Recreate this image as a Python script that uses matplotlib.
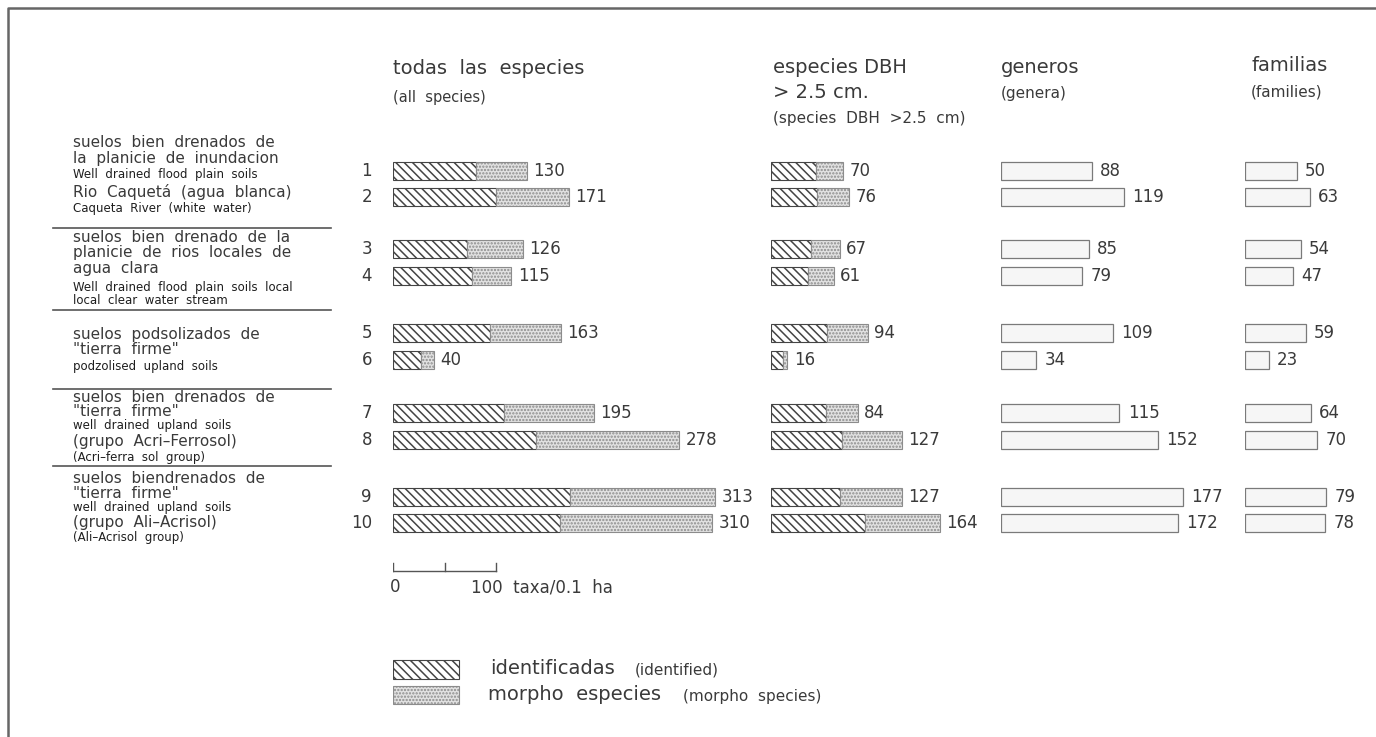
import matplotlib.pyplot as plt
import matplotlib as mpl

mpl.rcParams['hatch.linewidth'] = 1.1
mpl.rcParams['font.family'] = ['DejaVu Sans']

# data (taxa per 0.1 ha)
plots = ['1', '2', '3', '4', '5', '6', '7', '8', '9', '10']
all_total = [130, 171, 126, 115, 163, 40, 195, 278, 313, 310]
all_ident = [81, 100, 72, 77, 94, 27, 108, 139, 172, 162]
dbh_total = [70, 76, 67, 61, 94, 16, 84, 127, 127, 164]
dbh_ident = [44, 45, 39, 36, 54, 12, 53, 69, 67, 91]
genera = [88, 119, 85, 79, 109, 34, 115, 152, 177, 172]
families = [50, 63, 54, 47, 59, 23, 64, 70, 79, 78]

groups = [
    [('suelos  bien  drenados  de', 'big'), ('la  planicie  de  inundacion', 'big'),
     ('Well  drained  flood  plain  soils', 'small'), ('Rio  Caquetá  (agua  blanca)', 'big'),
     ('Caqueta  River  (white  water)', 'small')],
    [('suelos  bien  drenado  de  la', 'big'), ('planicie  de  rios  locales  de', 'big'),
     ('agua  clara', 'big'), ('Well  drained  flood  plain  soils  local', 'small'),
     ('local  clear  water  stream', 'small')],
    [('suelos  podsolizados  de', 'big'), ('"tierra  firme"', 'big'),
     ('podzolised  upland  soils', 'small')],
    [('suelos  bien  drenados  de', 'big'), ('"tierra  firme"', 'big'),
     ('well  drained  upland  soils', 'small'), ('(grupo  Acri\u2013Ferrosol)', 'big'),
     ('(Acri\u2013ferra  sol  group)', 'small')],
    [('suelos  biendrenados  de', 'big'), ('"tierra  firme"', 'big'),
     ('well  drained  upland  soils', 'small'), ('(grupo  Ali\u2013Acrisol)', 'big'),
     ('(Ali\u2013Acrisol  group)', 'small')],
]

# layout (pixels)
W, H = 1376, 737
row_y = [171, 197, 249, 276, 333, 360, 413, 440, 497, 523]
group_line_y = [[142, 158, 174, 192, 208], [237, 252, 268, 287, 300],
                [334, 349, 366], [397, 411, 425, 441, 457], [478, 493, 508, 523, 537]]
sep_y = [228, 310, 389, 466]
col_x = [393, 771, 1001, 1245]
ppu = 1.03
bar_h = 18
ink = '#3a3a3a'
hatch_col = '#444444'
dot_col = '#8c8c8c'

fig = plt.figure(figsize=(W / 100, H / 100), dpi=100)
fig.patch.set_facecolor('white')
ax0 = fig.add_axes([0, 0, 1, 1])
ax0.set_xlim(0, W)
ax0.set_ylim(H, 0)
ax0.axis('off')

# frame
ax0.plot([8, 8, W], [H, 8, 8], color='#666', lw=1.8)

# left labels
for lines, ys in zip(groups, group_line_y):
    for (txt, kind), y in zip(lines, ys):
        if kind == 'big':
            ax0.text(73, y, txt, fontsize=11, color=ink, va='center')
        else:
            ax0.text(73, y, txt, fontsize=8.5, color='#1e1e1e', va='center')
for y in sep_y:
    ax0.plot([53, 331], [y, y], color='#555', lw=1.2)

# column headers
ax0.text(393, 68, 'todas  las  especies', fontsize=14, color=ink, va='center')
ax0.text(393, 97, '(all  species)', fontsize=10.5, color=ink, va='center')
ax0.text(773, 67, 'especies DBH', fontsize=14, color=ink, va='center')
ax0.text(773, 92, '> 2.5 cm.', fontsize=14, color=ink, va='center')
ax0.text(773, 118, '(species  DBH  >2.5  cm)', fontsize=11, color=ink, va='center')
ax0.text(1001, 67, 'generos', fontsize=14, color=ink, va='center')
ax0.text(1001, 93, '(genera)', fontsize=11, color=ink, va='center')
ax0.text(1251, 65, 'familias', fontsize=14, color=ink, va='center')
ax0.text(1251, 92, '(families)', fontsize=11, color=ink, va='center')

# plot numbers
for p, y in zip(plots, row_y):
    ax0.text(372, y, p, fontsize=12, color=ink, va='center', ha='right')


def col_axes(x0, wpx):
    ax = fig.add_axes([x0 / W, 0, wpx / W, 1])
    ax.set_xlim(0, wpx / ppu)
    ax.set_ylim(H, 0)
    ax.axis('off')
    return ax


def stacked(ax, ident, total):
    morpho = [t - i for t, i in zip(total, ident)]
    ax.barh(row_y, ident, height=bar_h, color='white', edgecolor=hatch_col,
            hatch='\\\\\\\\', lw=0.8)
    ax.barh(row_y, morpho, left=ident, height=bar_h, color='#e2e2e2',
            edgecolor=dot_col, hatch='.....', lw=0.8)
    for t, y in zip(total, row_y):
        ax.text(t + 6, y, str(t), fontsize=12, color=ink, va='center')


def plain(ax, vals):
    ax.barh(row_y, vals, height=bar_h, color='#f6f6f6', edgecolor='#7a7a7a', lw=0.9)
    for v, y in zip(vals, row_y):
        ax.text(v + 8, y, str(v), fontsize=12, color=ink, va='center')


ax1 = col_axes(col_x[0], 370)
stacked(ax1, all_ident, all_total)
ax2 = col_axes(col_x[1], 220)
stacked(ax2, dbh_ident, dbh_total)
ax3 = col_axes(col_x[2], 230)
plain(ax3, genera)
ax4 = col_axes(col_x[3], 130)
plain(ax4, families)

# scale bar (0-100 taxa)
scale_ticks = [0, 50, 100]
ax1.plot([scale_ticks[0], scale_ticks[-1]], [571, 571], color='#555', lw=1)
for t in scale_ticks:
    ax1.plot([t, t], [571, 563], color='#555', lw=1)
ax1.text(-3, 587, '0', fontsize=12, color=ink, va='center')
ax1.text(76, 587, '100  taxa/0.1  ha', fontsize=12, color=ink, va='center')

# legend
ax1.barh([669], [64], height=19, color='white', edgecolor=hatch_col,
         hatch='\\\\\\\\', lw=0.8)
ax1.barh([695], [64], height=18, color='#e2e2e2', edgecolor=dot_col,
         hatch='.....', lw=0.8)
ax0.text(490, 668, 'identificadas', fontsize=14, color=ink, va='center')
ax0.text(635, 670, '(identified)', fontsize=11, color=ink, va='center')
ax0.text(488, 695, 'morpho  especies', fontsize=14, color=ink, va='center')
ax0.text(683, 697, '(morpho  species)', fontsize=11, color=ink, va='center')

fig.savefig('out.png', dpi=100, facecolor='white')
